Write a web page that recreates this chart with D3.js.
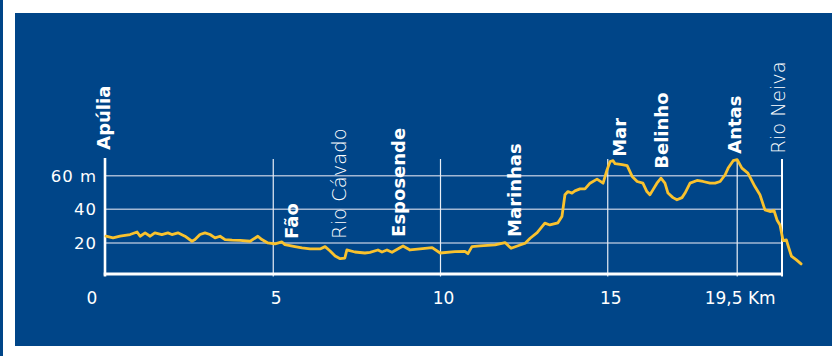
<!DOCTYPE html>
<html>
<head>
<meta charset="utf-8">
<script src="https://cdn.jsdelivr.net/npm/d3@7"></script>
<style>
  body { margin: 0; background: #fff; }
  svg { display: block; }
</style>
</head>
<body>
<svg id="chart" width="835" height="356"></svg>
<script>
// elevation profile
const distKm = [0, 0.21, 0.42, 0.72, 0.93, 1.02, 1.17, 1.32, 1.46, 1.67,
  1.85, 1.97, 2.15, 2.36, 2.57, 2.66, 2.81, 2.96, 3.11, 3.26,
  3.41, 3.56, 3.77, 4.01, 4.31, 4.54, 4.66, 4.84, 5.05, 5.26,
  5.35, 5.65, 5.86, 6.10, 6.40, 6.55, 6.70, 6.85, 7.00, 7.14,
  7.20, 7.44, 7.74, 7.89, 8.13, 8.25, 8.40, 8.55, 8.88, 9.09,
  9.39, 9.75, 9.99, 10.43, 10.73, 10.82, 10.94, 11.18, 11.63, 11.93,
  12.11, 12.38, 12.53, 12.68, 12.89, 13.12, 13.27, 13.51, 13.63, 13.72,
  13.81, 13.93, 14.02, 14.17, 14.32, 14.47, 14.68, 14.86, 14.98, 15.07,
  15.16, 15.22, 15.43, 15.58, 15.73, 15.88, 16.05, 16.17, 16.26, 16.35,
  16.47, 16.59, 16.71, 16.80, 16.95, 17.07, 17.22, 17.31, 17.46, 17.67,
  17.85, 18.06, 18.21, 18.36, 18.51, 18.60, 18.75, 18.87, 19.01, 19.19,
  19.40, 19.55, 19.70, 19.85, 19.97, 20.06, 20.15, 20.24, 20.34, 20.40,
  20.49, 20.64, 20.78];
const altM = [24, 23, 24, 25, 26.5, 24, 26, 24, 26, 25,
  26, 25, 26, 24, 21, 22, 25, 26, 25, 23,
  24, 22, 21.7, 21.5, 21, 24, 22, 20, 19.4, 20.6,
  19, 17.8, 17, 16.4, 16.4, 17.8, 15.2, 12.2, 10.6, 11,
  15.8, 14.6, 14, 14.4, 15.8, 14.6, 15.8, 14.4, 18.2, 15.8,
  16.4, 17.2, 14, 14.8, 15, 13.6, 17.8, 18.2, 18.8, 20.2,
  16.8, 18.8, 19.8, 22.8, 26.1, 31.8, 30.7, 32, 35.7, 48.7,
  50.6, 49.7, 51, 52.2, 52.2, 55.6, 58, 55.6, 63.6, 68.5,
  69, 67.2, 66.6, 66, 59.6, 56.6, 55.6, 50.6, 48.7, 51.6,
  55.6, 58.6, 55.6, 49.7, 47, 45.7, 47, 49.7, 55.6, 57.2,
  56.6, 55.6, 55.6, 56.6, 60.6, 64.6, 69, 69.6, 64.6, 61.6,
  53.6, 48.7, 39.7, 38.7, 39.3, 33.7, 30.7, 21.4, 21.8, 17.8,
  12.2, 9.9, 7.5];

const yTicks = [20, 40, 60];
const yTickLabels = ['20', '40', '60 m'];
const xTicks = [0, 5, 10, 15, 18.87];
const xTickLabels = ['0', '5', '10', '15', '19,5 Km'];
const markerKm = [5, 10, 15, 18.87];   // thin vertical lines
const endKm = 20.21;                    // Rio Neiva

// places along the route: name, km, altitude where the label starts, bold?
const placeNames = ['Apúlia', 'Fão', 'Rio Cávado', 'Esposende', 'Marinhas', 'Mar', 'Belinho', 'Antas', 'Rio Neiva'];
const placeKm = [-0.07, 5.55, 6.95, 8.73, 12.2, 15.35, 16.6, 18.8, 20.1];
const placeAlt = [75.5, 22.4, 22.4, 23.6, 23.6, 71.3, 64.2, 73.1, 73.1];
const placeBold = [true, true, false, true, true, true, true, true, false];

const svg = d3.select('#chart');
const blue = '#004588';

svg.append('rect')
  .attr('x', 0).attr('y', 0).attr('width', 3).attr('height', 356)
  .attr('fill', blue);
svg.append('rect')
  .attr('x', 15).attr('y', 13).attr('width', 817).attr('height', 333)
  .attr('fill', blue);

const x = d3.scaleLinear().domain([0, 21]).range([106, 106 + 21 * 33.45]);
const y = d3.scaleLinear().domain([0, 70]).range([276.5, 159]);

const g = svg.append('g');

// horizontal grid
g.selectAll('.hgrid')
  .data(yTicks)
  .enter().append('line')
  .attr('x1', x(0)).attr('x2', x(endKm))
  .attr('y1', d => y(d)).attr('y2', d => y(d))
  .attr('stroke', '#a3b8d3')
  .attr('stroke-width', 1.5);

// vertical markers
g.selectAll('.vline')
  .data(markerKm)
  .enter().append('line')
  .attr('x1', d => x(d)).attr('x2', d => x(d))
  .attr('y1', y(70)).attr('y2', y(0))
  .attr('stroke', '#e8eef6')
  .attr('stroke-width', 1.2);

g.append('line')
  .attr('x1', x(endKm)).attr('x2', x(endKm))
  .attr('y1', y(70)).attr('y2', y(0))
  .attr('stroke', '#fff')
  .attr('stroke-width', 2);

// axes
g.append('line')
  .attr('x1', x(0) - 1).attr('x2', x(0) - 1)
  .attr('y1', y(70) - 1).attr('y2', y(0))
  .attr('stroke', '#fff')
  .attr('stroke-width', 2.6);

g.append('line')
  .attr('x1', x(0) - 2.3).attr('x2', x(endKm) + 1)
  .attr('y1', y(0) - 2.5).attr('y2', y(0) - 2.5)
  .attr('stroke', '#fff')
  .attr('stroke-width', 3);

// profile
const line = d3.line()
  .x(d => x(d[0]))
  .y(d => y(d[1]));

g.append('path')
  .datum(d3.zip(distKm, altM))
  .attr('fill', 'none')
  .attr('stroke', '#f9c22e')
  .attr('stroke-width', 2.8)
  .attr('stroke-linejoin', 'round')
  .attr('stroke-linecap', 'round')
  .attr('d', line);

// tick labels
g.selectAll('.ylab')
  .data(yTicks)
  .enter().append('text')
  .attr('x', x(0) - 9)
  .attr('y', d => y(d))
  .attr('dy', '0.36em')
  .attr('text-anchor', 'end')
  .style('font-family', 'DejaVu Sans')
  .style('font-size', '16.5px')
  .style('letter-spacing', '1px')
  .style('fill', '#fff')
  .text((d, i) => yTickLabels[i]);

g.selectAll('.xlab')
  .data(xTicks)
  .enter().append('text')
  .attr('x', (d, i) => i === 0 ? x(d) - 14 : x(d) + 3)
  .attr('y', 304)
  .attr('text-anchor', 'middle')
  .style('font-family', 'DejaVu Sans')
  .style('font-size', '17px')
  .style('fill', '#fff')
  .text((d, i) => xTickLabels[i]);

// place names, rotated
g.selectAll('.place')
  .data(placeNames)
  .enter().append('text')
  .attr('transform', (d, i) => `translate(${x(placeKm[i])},${y(placeAlt[i])}) rotate(-90)`)
  .attr('dy', '0.36em')
  .style('font-family', 'DejaVu Sans')
  .style('font-size', (d, i) => placeBold[i] ? '18px' : '19.5px')
  .style('font-weight', (d, i) => placeBold[i] ? 'bold' : '200')
  .style('fill', '#fff')
  .text(d => d);
</script>
</body>
</html>
